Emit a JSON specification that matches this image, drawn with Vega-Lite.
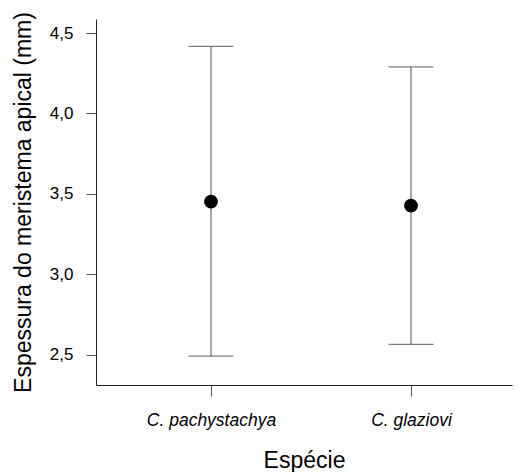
{
  "$schema": "https://vega.github.io/schema/vega-lite/v6.json",
  "autosize": "none",
  "width": 416,
  "height": 366,
  "padding": {"left": 96, "top": 19, "right": 12, "bottom": 87},
  "background": "white",
  "config": {
    "view": {"stroke": null},
    "font": "Liberation Sans"
  },
  "data": {
    "values": [
      {"especie": "C. pachystachya", "pos": 1, "media": 3.453, "inferior": 2.493, "superior": 4.417},
      {"especie": "C. glaziovi", "pos": 2, "media": 3.428, "inferior": 2.566, "superior": 4.289}
    ]
  },
  "encoding": {
    "x": {
      "field": "pos",
      "type": "quantitative",
      "scale": {"domain": [0.425, 2.505], "nice": false, "zero": false},
      "axis": {
        "title": "Espécie",
        "titleFont": "Liberation Sans",
        "titleFontSize": 23,
        "titleFontWeight": "normal",
        "titleColor": "#000",
        "titlePadding": 21,
        "values": [1, 2],
        "labelExpr": "datum.value == 1 ? 'C. pachystachya' : 'C. glaziovi'",
        "labelFont": "Liberation Sans",
        "labelFontStyle": "italic",
        "labelFontSize": 17.5,
        "labelColor": "#000",
        "labelPadding": 15,
        "tickSize": 11,
        "tickColor": "#555",
        "domainColor": "#222",
        "grid": false
      }
    }
  },
  "layer": [
    {
      "mark": {"type": "rule", "color": "#6e6e6e", "strokeWidth": 1.2},
      "encoding": {
        "y": {
          "field": "inferior",
          "type": "quantitative",
          "scale": {"domain": [2.313, 4.587], "nice": false, "zero": false},
          "axis": {
            "title": "Espessura do meristema apical (mm)",
            "titleFont": "Liberation Sans",
            "titleFontSize": 23,
            "titleFontWeight": "normal",
            "titleColor": "#000",
            "titlePadding": 14,
            "values": [2.5, 3.0, 3.5, 4.0, 4.5],
            "labelExpr": "replace(format(datum.value, '.1f'), '.', ',')",
            "labelFont": "Liberation Sans",
            "labelFontSize": 17,
            "labelColor": "#000",
            "labelPadding": 13,
            "tickSize": 10,
            "tickColor": "#555",
            "domainColor": "#222",
            "grid": false
          }
        },
        "y2": {"field": "superior"}
      }
    },
    {
      "mark": {"type": "tick", "orient": "horizontal", "color": "#444", "size": 45, "thickness": 1.2},
      "encoding": {"y": {"field": "superior", "type": "quantitative"}}
    },
    {
      "mark": {"type": "tick", "orient": "horizontal", "color": "#444", "size": 45, "thickness": 1.2},
      "encoding": {"y": {"field": "inferior", "type": "quantitative"}}
    },
    {
      "mark": {"type": "point", "filled": true, "shape": "circle", "color": "#000", "opacity": 1, "size": 190},
      "encoding": {"y": {"field": "media", "type": "quantitative"}}
    }
  ]
}
